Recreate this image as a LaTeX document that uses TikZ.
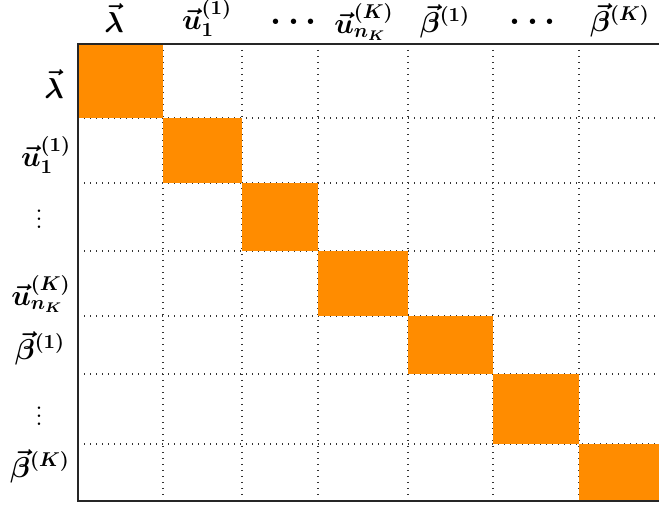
\documentclass[tikz,border=0pt]{standalone}
\usepackage{amsmath,bm}
\definecolor{cellorange}{HTML}{FF8C00}
\begin{document}
\begin{tikzpicture}[x=0.5pt,y=-0.5pt,
  lab/.style={font=\fontsize{14}{16}\selectfont, inner sep=0pt},
  dotlab/.style={font=\fontsize{17}{19}\selectfont, inner sep=0pt},
  vdotlab/.style={font=\fontsize{8}{9}\selectfont, inner sep=0pt},
  cell/.style={fill=cellorange, draw=none},
  gridline/.style={line width=0.6pt, black!80, dash pattern=on 0.6pt off 2.4pt},
  frame/.style={line width=0.8pt, black!85}]
\useasboundingbox (0,0) rectangle (659,507);
% grid
\foreach \x in {163,242,318,408,493,579} \draw[gridline] (\x,44) -- (\x,501);
\foreach \y in {118,183,251,316,374,444} \draw[gridline] (78,\y) -- (659,\y);
% diagonal blocks
\fill[cell] (78,44) rectangle (163,118);
\fill[cell] (163,118) rectangle (242,183);
\fill[cell] (242,183) rectangle (318,251);
\fill[cell] (318,251) rectangle (408,316);
\fill[cell] (408,316) rectangle (493,374);
\fill[cell] (493,374) rectangle (579,444);
\fill[cell] (579,444) rectangle (659,501);
% frame
\draw[frame] (659,44) -- (78,44) -- (78,501) -- (659,501);
% column labels
\node[lab] (c1) at (114,18) {$\bm{\vec{\lambda}}$};
\node[lab] (c2) at (207,18) {$\bm{\vec{u}_1^{(1)}}$};
\node[dotlab] (c3) at (297,22) {$\bm{\cdots}$};
\node[lab] (c4) at (364,22) {$\bm{\vec{u}_{n_K}^{(K)}}$};
\node[lab] (c5) at (445,21) {$\bm{\vec{\beta}^{(1)}}$};
\node[dotlab] (c6) at (536,22) {$\bm{\cdots}$};
\node[lab] (c7) at (620,20) {$\bm{\vec{\beta}^{(K)}}$};
% row labels
\node[lab] (r1) at (54,84) {$\bm{\vec{\lambda}}$};
\node[lab] (r2) at (46,155) {$\bm{\vec{u}_1^{(1)}}$};
\node[vdotlab] (r3) at (39,213) {$\bm{\vdots}$};
\node[lab] (r4) at (41,294) {$\bm{\vec{u}_{n_K}^{(K)}}$};
\node[lab] (r5) at (40,348) {$\bm{\vec{\beta}^{(1)}}$};
\node[vdotlab] (r6) at (39,410) {$\bm{\vdots}$};
\node[lab] (r7) at (40,466) {$\bm{\vec{\beta}^{(K)}}$};
\end{tikzpicture}
\end{document}
